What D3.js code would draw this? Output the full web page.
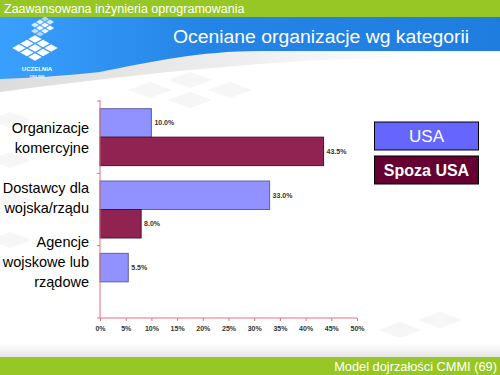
<!DOCTYPE html>
<html><head><meta charset="utf-8">
<script src="https://cdn.jsdelivr.net/npm/d3@7"></script>
<style>body{margin:0;background:#fff}svg{display:block}</style>
</head><body>
<script>
const categories = [["Organizacje","komercyjne"],["Dostawcy dla","wojska/rządu"],["Agencje","wojskowe lub","rządowe"]];
const categoryKeys = ["org","dost","agen"];
const seriesNames = ["USA","Spoza USA"];
const usaValues = [10.0, 33.0, 5.5];
const spozaValues = [43.5, 8.0, null];
const xTicks = [0,5,10,15,20,25,30,35,40,45,50];
const labelShift = [0, -12, -20];

const W=500,H=375;
const FONT="Liberation Sans, Arial, sans-serif";
const svg=d3.select("body").append("svg").attr("width",W).attr("height",H);
const defs=svg.append("defs");
const g1=defs.append("linearGradient").attr("id","blue").attr("x1","0").attr("x2","1");
g1.append("stop").attr("offset","0").attr("stop-color","#3aa0ff");
g1.append("stop").attr("offset","0.4").attr("stop-color","#2585e6");
g1.append("stop").attr("offset","1").attr("stop-color","#1f7de0");
const g2=defs.append("linearGradient").attr("id","shade").attr("x1","0").attr("x2","1");
g2.append("stop").attr("offset","0").attr("stop-color","#dcdcdc");
g2.append("stop").attr("offset","0.5").attr("stop-color","#efefef");
g2.append("stop").attr("offset","0.85").attr("stop-color","#ffffff");
const g3=defs.append("linearGradient").attr("id","shadeB").attr("x1","0").attr("x2","0").attr("y1","0").attr("y2","1");
g3.append("stop").attr("offset","0").attr("stop-color","#ffffff");
g3.append("stop").attr("offset","1").attr("stop-color","#e6e6e6");

// faint background diamonds
const bg=svg.append("g").attr("fill","#f6f6f6");
[[150,90],[190,80],[190,100],[230,90],[10,120],[10,160],[10,200],[10,240],[400,330],[440,320]].forEach(([cx,cy])=>{
  bg.append("path").attr("d",`M${cx-22},${cy} L${cx},${cy-8} L${cx+22},${cy} L${cx},${cy+8} Z`);
});

// header
svg.append("path").attr("d","M0,17 L500,17 L500,60 C430,56 330,58 260,64 C180,70 90,80 0,92 Z").attr("fill","url(#shade)");
svg.append("path").attr("d","M0,17 L500,17 L500,51 L260,51 C200,51 150,62 100,72 C60,76 30,78 0,79 Z").attr("fill","url(#blue)");
svg.append("rect").attr("x",0).attr("y",0).attr("width",W).attr("height",17).attr("fill","#97c724");
svg.append("text").attr("x",4).attr("y",13).attr("fill","#fff").attr("font-family",FONT).attr("font-size",12.5).text("Zaawansowana inżynieria oprogramowania");
svg.append("text").attr("x",173).attr("y",43).attr("fill","#fff").attr("font-family",FONT).attr("font-size",18)
  .attr("textLength",296).attr("lengthAdjust","spacingAndGlyphs").text("Oceniane organizacje wg kategorii");

// logo tiles (isometric grids)
const big=svg.append("g").attr("transform","matrix(8,-4.5,8,4.5,11,48)");
[[0,0],[1,0],[2,0],[0,1],[1,1],[2,1],[1,2],[2,2],[0,2]].forEach(([i,j])=>{
  big.append("rect").attr("x",i+0.08).attr("y",j+0.08).attr("width",0.84).attr("height",0.84).attr("fill","#fff");
});
const small=svg.append("g").attr("transform","matrix(5,-3,5,3,25,28)");
[[0,1,0.7],[1,1,0.9],[1,0,0.8],[2,0,0.9],[2,1,1],[1,2,0.9],[2,2,1],[0,2,0.6],[3,0,0.6],[3,1,0.8]].forEach(([i,j,o])=>{
  small.append("rect").attr("x",i+0.1).attr("y",j+0.1).attr("width",0.8).attr("height",0.8).attr("fill","#fff").attr("opacity",o);
});
svg.append("text").attr("x",37).attr("y",71).attr("text-anchor","middle").attr("fill","#fff").attr("font-family",FONT).attr("font-weight","bold").attr("font-size",6).text("UCZELNIA");
svg.append("text").attr("x",37).attr("y",77.5).attr("text-anchor","middle").attr("fill","#fff").attr("font-family",FONT).attr("font-weight","bold").attr("font-size",4).text("ONLINE");

// footer
svg.append("rect").attr("x",0).attr("y",343).attr("width",W).attr("height",14).attr("fill","url(#shadeB)");
svg.append("rect").attr("x",0).attr("y",357).attr("width",W).attr("height",18).attr("fill","#97c724");
svg.append("text").attr("x",497).attr("y",371).attr("text-anchor","end").attr("fill","#fff").attr("font-family",FONT).attr("font-size",12.8).text("Model dojrzałości CMMI (69)");

// chart
const x=d3.scaleLinear().domain([0,50]).range([100,357]);
const y=d3.scaleBand().domain(categoryKeys).range([101,318]).paddingInner(0).paddingOuter(0);
const ys=d3.scaleBand().domain(seriesNames).range([0,y.bandwidth()]).paddingInner(0).paddingOuter(0.27);
const colors={"USA":"#9191ff","Spoza USA":"#912352"};
const strokes={"USA":"#6060a0","Spoza USA":"#4a1030"};

const data=[];
categoryKeys.forEach((c,i)=>{
  data.push({c,s:"USA",v:usaValues[i]});
  data.push({c,s:"Spoza USA",v:spozaValues[i]});
});
const valid=data.filter(d=>d.v!=null);
svg.append("g").selectAll("rect").data(valid).join("rect")
  .attr("x",x(0)).attr("y",d=>y(d.c)+ys(d.s)).attr("width",d=>x(d.v)-x(0)).attr("height",ys.bandwidth())
  .attr("fill",d=>colors[d.s]).attr("stroke",d=>strokes[d.s]).attr("stroke-width",1);
svg.append("g").selectAll("text").data(valid).join("text")
  .attr("x",d=>x(d.v)+3).attr("y",d=>y(d.c)+ys(d.s)+ys.bandwidth()/2+2.5)
  .attr("font-family",FONT).attr("font-size",7).attr("font-weight","bold").attr("fill","#333")
  .text(d=>d.v.toFixed(1)+"%");

// axes
const axisColor="#e07080";
const xa=svg.append("g").attr("transform","translate(0,318)")
  .call(d3.axisBottom(x).tickValues(xTicks).tickSize(3).tickFormat(d=>d+"%"));
xa.select(".domain").attr("stroke",axisColor).attr("d","M100,0H357");
xa.selectAll(".tick line").attr("stroke",axisColor);
xa.selectAll(".tick text").attr("font-family",FONT).attr("font-size",7).attr("font-weight","bold").attr("fill","#333").attr("dy","1em");
const ya=svg.append("g").attr("transform","translate(100,0)");
ya.append("line").attr("x1",0).attr("x2",0).attr("y1",y.range()[0]-1).attr("y2",318).attr("stroke",axisColor);
const bounds=categoryKeys.map(c=>y(c)).concat([318]);
ya.selectAll("line.t").data(bounds).join("line").attr("class","t").attr("x1",-3).attr("x2",0).attr("y1",d=>d).attr("y2",d=>d).attr("stroke",axisColor);

// category labels
categoryKeys.forEach((c,i)=>{
  const lines=categories[i];
  const cy=y(c)+y.bandwidth()/2+labelShift[i];
  lines.forEach((t,k)=>{
    svg.append("text").attr("x",89).attr("y",cy+(k-(lines.length-1)/2)*20+5.5).attr("text-anchor","end")
      .attr("font-family",FONT).attr("font-size",14.5).attr("fill","#000").text(t);
  });
});

// legend
const lf={"USA":"#6666ff","Spoza USA":"#660033"};
const leg=svg.append("g").selectAll("g").data(seriesNames).join("g").attr("transform",(d,i)=>`translate(374.5,${122+i*34})`);
leg.append("rect").attr("width",104).attr("height",28).attr("fill",d=>lf[d]).attr("stroke","#000").attr("stroke-width",1);
leg.append("text").attr("x",52).attr("y",20).attr("text-anchor","middle").attr("fill","#fff")
  .attr("font-family",FONT).attr("font-size",(d,i)=>i?16:17).attr("font-weight",(d,i)=>i?"bold":"normal").text(d=>d);
</script>
</body></html>
